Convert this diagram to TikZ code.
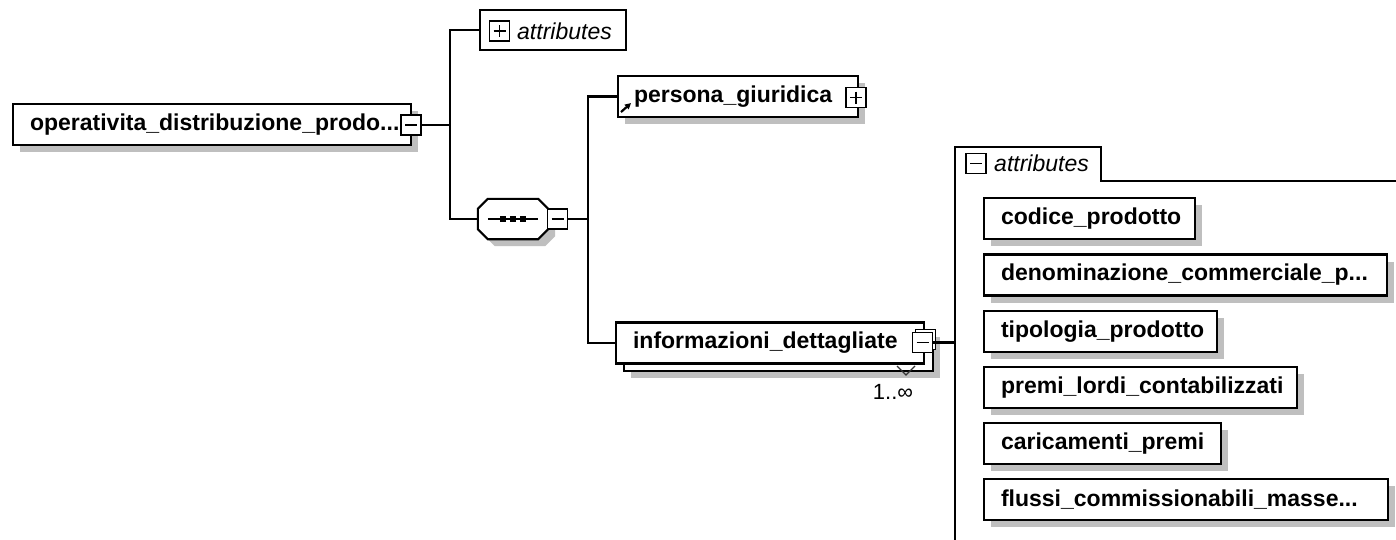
\documentclass[tikz,border=0pt]{standalone}
\usepackage{fontspec}
\setmainfont{Liberation Sans}
\usetikzlibrary{calc,shadows,arrows.meta}
\begin{document}
\begin{tikzpicture}[x=1pt,y=-1pt,
  line join=miter,
  conn/.style={line width=2.1pt},
  shadowed/.style={drop shadow={shadow xshift=7pt,shadow yshift=-7pt,fill=black!25,opacity=1}},
  elem/.style={draw,line width=2.1pt,fill=white,anchor=west,inner xsep=17pt,inner ysep=0pt,
    minimum height=41pt,align=left,font=\fontsize{23pt}{27pt}\selectfont\bfseries},
  label text/.style={anchor=west,inner sep=0pt,font=\fontsize{23pt}{27pt}\selectfont\itshape},
  toggle/.style={draw,line width=1.8pt,fill=white,minimum size=20pt,inner sep=0pt},
  minus/.style={toggle,path picture={
    \draw[line width=1.6pt] ([xshift=4pt]path picture bounding box.west) -- ([xshift=-4pt]path picture bounding box.east);}},
  plus/.style={toggle,path picture={
    \draw[line width=1.6pt] ([xshift=4pt]path picture bounding box.west) -- ([xshift=-4pt]path picture bounding box.east);
    \draw[line width=1.6pt] ([yshift=-4pt]path picture bounding box.north) -- ([yshift=4pt]path picture bounding box.south);}}
]
\useasboundingbox[fill=white] (0,0) rectangle (1396,539);

% root element
\node[elem,shadowed,text width=364pt] (main) at (12,124.5) {operativita\_distribuzione\_prodo...};
\node[minus] (mainx) at (411,125) {};

% attributes of the root (collapsed)
\node[draw,line width=2.1pt,fill=white,minimum width=146pt,minimum height=40pt,inner sep=0pt,anchor=west] (attr) at (479,30) {};
\node[plus] (attrx) at (499.5,31) {};
\node[label text] (attrlabel) at (517,31) {attributes};

% sequence compositor
\node[minimum width=70pt,minimum height=40pt,inner sep=0pt] (seq) at (513,219) {};
\draw[conn] (mainx.east) -- ++(28,0) |- (attr.west);
\draw[conn] (mainx.east) -- ++(28,0) |- (seq.west);
\path[draw,fill=white,line width=2.1pt,shadowed]
  ($(seq.north west)+(10,0)$) -- ($(seq.north east)+(-10,0)$) -- ($(seq.north east)+(0,10)$)
  -- ($(seq.south east)+(0,-10)$) -- ($(seq.south east)+(-10,0)$) -- ($(seq.south west)+(10,0)$)
  -- ($(seq.south west)+(0,-10)$) -- ($(seq.north west)+(0,10)$) -- cycle;
\draw[line width=1.7pt] ($(seq.west)+(10,0)$) -- ($(seq.east)+(-10,0)$);
\foreach \d in {-10,0,10}
  \fill ($(seq.center)+(\d-3,-3)$) rectangle ($(seq.center)+(\d+3,3)$);
\node[minus] (seqx) at (557.5,219) {};

% children of the sequence
\node[elem,shadowed,inner xsep=16pt,text width=208pt] (persona) at (617,96.5) {persona\_giuridica};
\node[plus] (personax) at (856,97.5) {};
\draw[line width=2.2pt,-{Triangle[length=6pt,width=6pt]}] ($(persona.south west)+(4,-6)$) -- ++(10,-9);

\node[elem,shadowed,text width=275pt] (infoback) at (623,350.5) {};
\node[elem,text width=274pt] (info) at (615,343) {informazioni\_dettagliate};
\node[toggle] (infoxback) at (925.5,339.5) {};
\node[minus] (infox) at (922.5,342.5) {};
\draw[line width=1.2pt,black!80] (897,366) -- (906,375) -- (915,366);
\node[font=\fontsize{22pt}{26pt}\selectfont,inner sep=0pt] (occurs) at (893,392) {1..∞};

\draw[conn] (seqx.east) -- ++(19.5,0) |- (persona.west);
\draw[conn] (seqx.east) -- ++(19.5,0) |- (info.west);

% expanded attribute group
\coordinate (pnl) at (955,147);
\draw[conn] (955,545) -- (pnl) -- (1101,147) -- (1101,181) -- (1400,181);
\draw[conn] (infox.east) -- (infox.east -| pnl);
\node[minus] (tabx) at (976,163.5) {};
\node[label text] (tablabel) at (994,163) {attributes};

\node[elem,shadowed,text width=177pt] (a1) at (983,218.5) {codice\_prodotto};
\node[elem,shadowed,text width=369pt] (a2) at (983,275) {denominazione\_commerciale\_p...};
\node[elem,shadowed,text width=199pt] (a3) at (983,331.5) {tipologia\_prodotto};
\node[elem,shadowed,text width=279pt] (a4) at (983,387.5) {premi\_lordi\_contabilizzati};
\node[elem,shadowed,text width=203pt] (a5) at (983,443.5) {caricamenti\_premi};
\node[elem,shadowed,text width=370pt] (a6) at (983,499.5) {flussi\_commissionabili\_masse...};
\end{tikzpicture}
\end{document}
